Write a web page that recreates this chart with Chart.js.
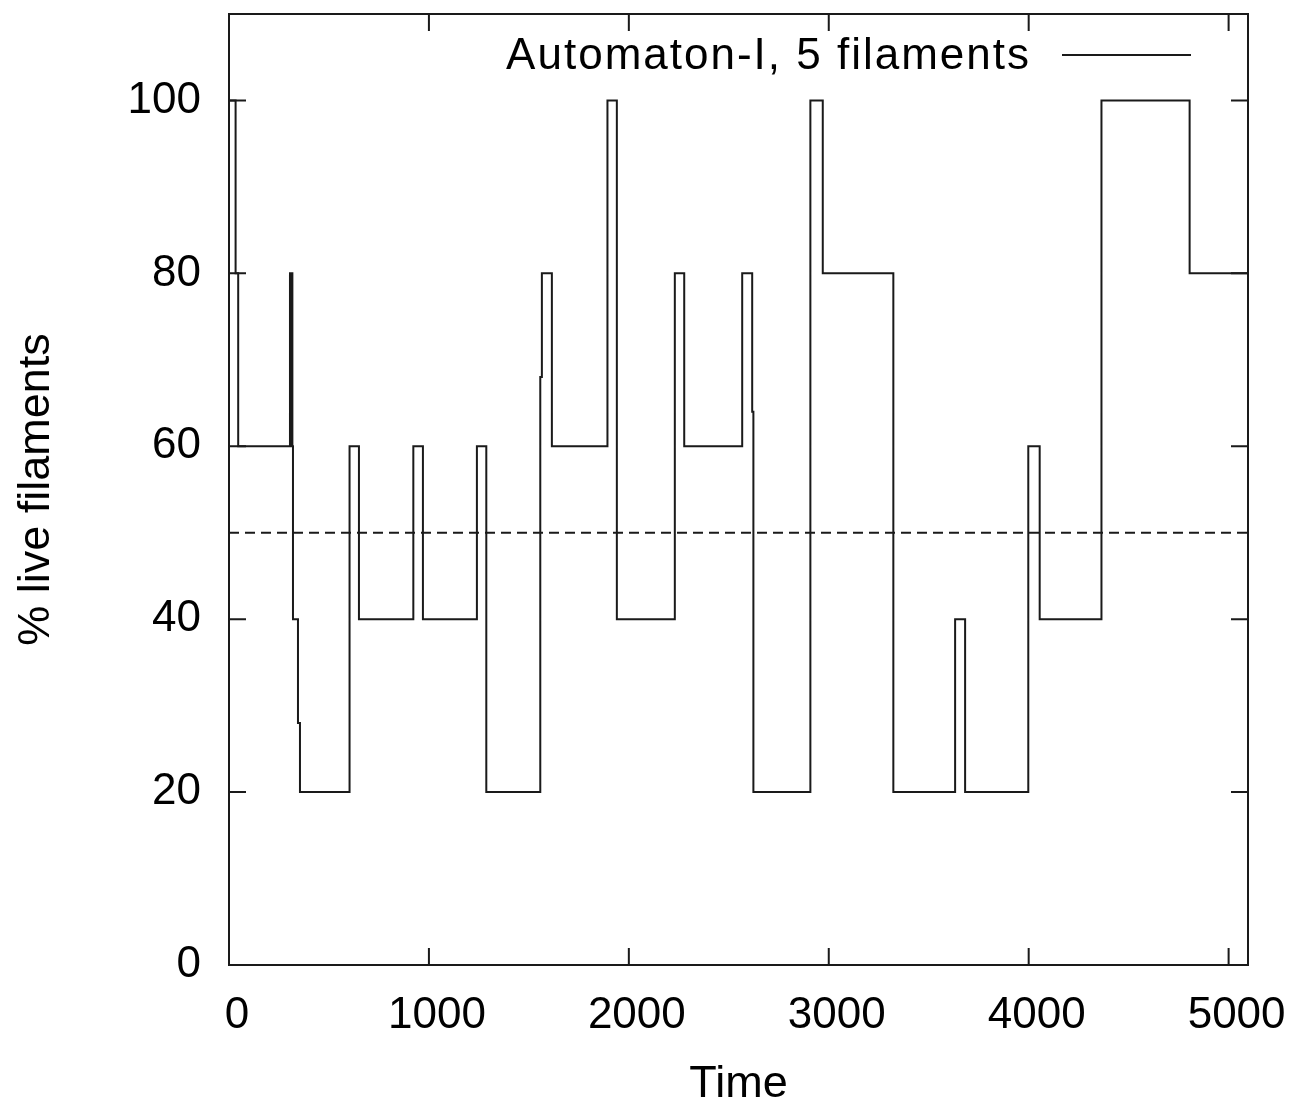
<!DOCTYPE html>
<html>
<head>
<meta charset="utf-8">
<title>Automaton-I, 5 filaments</title>
<script src="https://cdn.jsdelivr.net/npm/chart.js@4.4.1/dist/chart.umd.min.js"></script>
<style>
  html, body { margin: 0; padding: 0; background: #fff; }
  #wrap { width: 1296px; height: 1103px; position: relative; }
</style>
</head>
<body>
<div id="wrap"><canvas id="chart"></canvas></div>
<script>
// Step series: time at which the level changes, and the % of live filaments from then on
const times = [0, 33, 46, 305, 307, 310, 312, 315, 317, 320, 345, 355,
    603, 650, 922, 970, 1240, 1287, 1557, 1565, 1615, 1893, 1940, 2230,
    2277, 2567, 2617, 2623, 2908, 2970, 3323, 3632, 3682, 3998, 4055, 4364,
    4805, 5097];
const liveFilaments = [100, 80, 60, 80, 60, 80, 60, 80, 60, 40, 28, 20,
    60, 40, 60, 40, 60, 20, 68, 80, 60, 100, 40, 80,
    60, 80, 64, 20, 100, 80, 20, 40, 20, 60, 40, 100,
    80, 80];
const threshold = 50;
const xMax = 5097;
const yMax = 110;
const xTicks = [0, 1000, 2000, 3000, 4000, 5000];
const yTicks = [0, 20, 40, 60, 80, 100];
const seriesLabel = 'Automaton-I, 5 filaments';

const family = "'Liberation Sans', Arial, Helvetica, sans-serif";
const INK = '#1a1a1a';

// gnuplot style frame, ticks pointing inwards on all four sides
const framePlugin = {
    id: 'frame',
    beforeDatasetsDraw(chart) {
        const {ctx, chartArea: a, scales: {x, y}} = chart;
        const len = 17;
        ctx.save();
        ctx.strokeStyle = INK;
        ctx.lineWidth = 2;
        ctx.strokeRect(a.left, a.top, a.right - a.left, a.bottom - a.top);
        ctx.beginPath();
        xTicks.forEach(v => {
            const px = x.getPixelForValue(v);
            ctx.moveTo(px, a.bottom); ctx.lineTo(px, a.bottom - len);
            ctx.moveTo(px, a.top); ctx.lineTo(px, a.top + len);
        });
        yTicks.forEach(v => {
            const py = y.getPixelForValue(v);
            ctx.moveTo(a.left, py); ctx.lineTo(a.left + len, py);
            ctx.moveTo(a.right, py); ctx.lineTo(a.right - len, py);
        });
        ctx.stroke();
        ctx.restore();
    }
};

// key in the top right corner: label first, then a sample of the line
const keyPlugin = {
    id: 'key',
    afterDatasetsDraw(chart) {
        const ds = chart.data.datasets[0];
        const {ctx, chartArea: a} = chart;
        const yMid = a.top + 41;
        const lineEnd = a.right - 57;
        const lineStart = lineEnd - 129;
        ctx.save();
        ctx.font = '44px ' + family;
        ctx.letterSpacing = '2px';
        ctx.fillStyle = '#000';
        ctx.textAlign = 'right';
        ctx.textBaseline = 'middle';
        ctx.fillText(ds.label, lineStart - 31, yMid + 2);
        ctx.strokeStyle = ds.borderColor;
        ctx.lineWidth = ds.borderWidth;
        ctx.beginPath();
        ctx.moveTo(lineStart, yMid);
        ctx.lineTo(lineEnd, yMid);
        ctx.stroke();
        ctx.restore();
    }
};

function noPadding(s) {
    s.paddingTop = 0;
    s.paddingBottom = 0;
    s.paddingLeft = 0;
    s.paddingRight = 0;
}

new Chart(document.getElementById('chart'), {
    type: 'line',
    data: {
        datasets: [
            {
                label: seriesLabel,
                data: times.map((t, i) => ({x: t, y: liveFilaments[i]})),
                stepped: true,
                borderColor: INK,
                borderWidth: 2,
                pointRadius: 0,
                fill: false
            },
            {
                label: 'threshold',
                data: [{x: 0, y: threshold}, {x: xMax, y: threshold}],
                borderColor: INK,
                borderWidth: 2,
                borderDash: [10, 6],
                pointRadius: 0,
                fill: false
            }
        ]
    },
    options: {
        responsive: true,
        maintainAspectRatio: false,
        animation: false,
        layout: { padding: { top: 14, right: 48, left: 0, bottom: 0 } },
        plugins: { legend: { display: false }, tooltip: { enabled: false } },
        scales: {
            x: {
                type: 'linear',
                min: 0,
                max: xMax,
                afterBuildTicks: s => { s.ticks = xTicks.map(v => ({value: v})); },
                afterFit: s => { s.height = 138; noPadding(s); },
                grid: { display: false, drawTicks: false },
                border: { display: false },
                ticks: {
                    padding: 24, labelOffset: 8, color: '#000',
                    font: { family, size: 44 }, maxRotation: 0, autoSkip: false,
                    callback: v => String(v)
                },
                title: {
                    display: true, text: 'Time', color: '#000',
                    font: { family, size: 45, lineHeight: 1 }, padding: { top: 0, bottom: -4 }
                }
            },
            y: {
                min: 0,
                max: yMax,
                afterBuildTicks: s => { s.ticks = yTicks.map(v => ({value: v})); },
                afterFit: s => { s.width = 229; noPadding(s); },
                grid: { display: false, drawTicks: false },
                border: { display: false },
                ticks: {
                    padding: 28, color: '#000', font: { family, size: 44 },
                    callback: v => String(v)
                },
                title: {
                    display: true, text: '% live filaments', color: '#000',
                    font: { family, size: 45, lineHeight: 1 }, padding: { top: 14, bottom: 0 }
                }
            }
        }
    },
    plugins: [framePlugin, keyPlugin]
});
</script>
</body>
</html>
